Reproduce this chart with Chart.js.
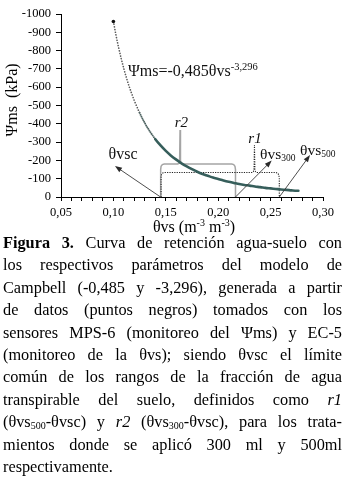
<!DOCTYPE html>
<html><head><meta charset="utf-8">
<script src="https://cdn.jsdelivr.net/npm/chart.js@4.4.0/dist/chart.umd.min.js"></script>
<style>
html,body{margin:0;padding:0;background:#fff;width:350px;height:478px;overflow:hidden}
#wrap{position:relative;width:350px;height:478px}
canvas{position:absolute;left:0;top:0}
#cap{position:absolute;left:3px;top:232px;width:339px;font-family:'Liberation Serif',serif;font-size:16.3px;line-height:22.4px;color:#000}
#cap div{text-align:justify;text-align-last:justify;white-space:nowrap}
#cap div.last{text-align-last:left}
.sb{font-size:10px;vertical-align:-2px;line-height:0}
</style></head>
<body><div id="wrap">
<canvas id="c" width="350" height="236"></canvas>
<div id="cap">
<div><b>Figura 3.</b> Curva de retención agua-suelo con</div>
<div>los respectivos parámetros del modelo de</div>
<div>Campbell (-0,485 y -3,296), generada a partir</div>
<div>de datos (puntos negros) tomados con los</div>
<div>sensores MPS-6 (monitoreo del Ψms) y EC-5</div>
<div>(monitoreo de la θvs); siendo θvsc el límite</div>
<div>común de los rangos de la fracción de agua</div>
<div>transpirable del suelo, definidos como <i>r1</i></div>
<div>(θvs<span class="sb">500</span>-θvsc) y <i>r2</i> (θvs<span class="sb">300</span>-θvsc), para los trata-</div>
<div>mientos donde se aplicó 300 ml y 500ml</div>
<div class="last">respectivamente.</div>
</div>
</div>
<script>
// ---- data ----
const thetaCurve = [0.100,0.1025,0.105,0.1075,0.110,0.1125,0.115,0.1175,0.120,0.125,0.130,0.135,0.140,0.145,0.150,0.155,0.160,0.165,0.170,0.175,0.180,0.185,0.190,0.195,0.200,0.205,0.210,0.215,0.220,0.225,0.230,0.235,0.240,0.245,0.250,0.255,0.260,0.265,0.270,0.275,0.2765];
const psiCurve   = [-959,-884,-816,-756,-700,-650,-605,-564,-526,-460,-404,-357,-316,-282,-252,-226,-204,-184,-167,-152,-138,-126,-116,-106,-98,-90,-83,-77,-71,-66,-62,-57,-54,-50,-47,-44,-41,-39,-36,-34,-34];

// bracket r2 (θvsc .. θvs300) and r1 (θvsc .. θvs500)
const r2Theta = [0.1451,0.1451,0.1455,0.1467,0.1485,0.1613,0.1626,0.1632,0.1636,0.1640,0.1646,0.1659,0.2130,0.2148,0.2160,0.2165,0.2165];
const r2Psi   = [0,-150,-168,-177,-180,-180,-184,-200,-366,-200,-184,-180,-180,-177,-168,-150,0];
const r1Theta = [0.1455,0.1455,0.1459,0.1471,0.1489,0.2323,0.2336,0.2342,0.2346,0.2350,0.2356,0.2369,0.2548,0.2566,0.2578,0.2583,0.2583];
const r1Psi   = [0,-105,-122,-131,-134,-134,-138,-152,-284,-152,-138,-134,-134,-131,-122,-105,0];

// arrows: tail on the axis -> head near the label
const arrowTailTheta = [0.145,0.2165,0.2583];
const arrowTailPsi   = [0,0,0];
const arrowHeadTheta = [0.1015,0.251,0.2876];
const arrowHeadPsi   = [-169,-199,-229];

const xTickLabels = ['0,05','0,10','0,15','0,20','0,25','0,30'];
const yTickLabels = ['-1000','-900','-800','-700','-600','-500','-400','-300','-200','-100','0'];

const pts = (xs, ys) => xs.map((v,i)=>({x:v,y:ys[i]}));
const F = "'Liberation Serif', serif";

function drawRich(ctx, x, y, parts, align){
  let w = 0;
  parts.forEach(p=>{ ctx.font = (p.st||'') + ' ' + p.s + 'px ' + F; p.w = ctx.measureText(p.t).width; w += p.w; });
  let cx = align==='center' ? x - w/2 : x;
  ctx.textAlign = 'left'; ctx.textBaseline = 'middle';
  parts.forEach(p=>{ ctx.font = (p.st||'') + ' ' + p.s + 'px ' + F; ctx.fillText(p.t, cx, y + (p.dy||0)); cx += p.w; });
}
function arrow(ctx, x0, y0, x1, y1){
  const a = Math.atan2(y1-y0, x1-x0), L = 7, H = 2.6;
  ctx.beginPath(); ctx.moveTo(x0,y0); ctx.lineTo(x1 - L*0.8*Math.cos(a), y1 - L*0.8*Math.sin(a)); ctx.stroke();
  ctx.beginPath();
  ctx.moveTo(x1,y1);
  ctx.lineTo(x1 - L*Math.cos(a) + H*Math.sin(a), y1 - L*Math.sin(a) - H*Math.cos(a));
  ctx.lineTo(x1 - L*Math.cos(a) - H*Math.sin(a), y1 - L*Math.sin(a) + H*Math.cos(a));
  ctx.closePath(); ctx.fill();
}

const annot = {
  id:'annot',
  afterDatasetsDraw(chart){
    const {ctx, scales:{x,y}, chartArea:ca} = chart;
    ctx.save();
    ctx.strokeStyle = '#3a3a3a'; ctx.fillStyle = '#2a2a2a'; ctx.lineWidth = 0.9;
    for (let i=0;i<arrowTailTheta.length;i++){
      arrow(ctx, x.getPixelForValue(arrowTailTheta[i]), y.getPixelForValue(arrowTailPsi[i]),
                 x.getPixelForValue(arrowHeadTheta[i]), y.getPixelForValue(arrowHeadPsi[i]));
    }
    ctx.fillStyle = '#111';
    drawRich(ctx, x.getPixelForValue(0.1092), y.getPixelForValue(-229), [{t:'θvsc',s:16}], 'center');
    drawRich(ctx, x.getPixelForValue(0.2399), y.getPixelForValue(-229), [{t:'θvs',s:15.5},{t:'300',s:9.5,dy:3}], 'left');
    drawRich(ctx, x.getPixelForValue(0.2781), y.getPixelForValue(-251), [{t:'θvs',s:15.5},{t:'500',s:9.5,dy:3}], 'left');
    drawRich(ctx, x.getPixelForValue(0.1649), y.getPixelForValue(-404), [{t:'r2',s:15,st:'italic'}], 'center');
    drawRich(ctx, x.getPixelForValue(0.2351), y.getPixelForValue(-316), [{t:'r1',s:15,st:'italic'}], 'center');
    drawRich(ctx, x.getPixelForValue(0.1139), y.getPixelForValue(-682), [{t:'Ψms=-0,485θvs',s:16},{t:'-3,296',s:10.5,dy:-5}], 'left');
    ctx.fillStyle = '#000';
    drawRich(ctx, (ca.left+ca.right)/2 + 2, 228, [{t:'θvs (m',s:16},{t:'-3',s:10,dy:-5},{t:' m',s:16},{t:'-3',s:10,dy:-5},{t:')',s:16}], 'center');
    ctx.save(); ctx.translate(12.5, 100); ctx.rotate(-Math.PI/2);
    drawRich(ctx, 0, 0, [{t:'Ψms  (kPa)',s:16}], 'center');
    ctx.restore();
    ctx.restore();
  }
};

Chart.defaults.font.family = F;
Chart.defaults.color = '#000';

const seg = (x, a, b, c) => x < 0.124 ? a : (x < 0.1395 ? b : c);

new Chart(document.getElementById('c'), {
  type:'scatter',
  data:{datasets:[
    { data: pts(thetaCurve, psiCurve), showLine:true, cubicInterpolationMode:'monotone',
      borderColor:'#365e5b', borderWidth:2.6, borderCapStyle:'round',
      pointRadius: c => c.dataIndex===0 ? 1.8 : 0, pointBackgroundColor:'#111', pointBorderWidth:0,
      segment:{
        borderDash: c => seg(c.p0.parsed.x, [0.01,2.7], [0.01,2.0], []),
        borderWidth: c => seg(c.p0.parsed.x, 1.7, 1.9, 2.6),
        borderColor: c => seg(c.p0.parsed.x, '#5a5a5a', '#4f6462', '#365e5b')
      }, order:0 },
    { data: pts(r2Theta, r2Psi), showLine:true, borderColor:'#a5a5a5', borderWidth:1.5, pointRadius:0, tension:0, order:2 },
    { data: pts(r1Theta, r1Psi), showLine:true, borderColor:'#222', borderWidth:1.1, borderDash:[1.2,1.2], pointRadius:0, tension:0, order:1 }
  ]},
  options:{
    responsive:false, animation:false,
    layout:{padding:{left:0,right:27,top:14,bottom:0}},
    plugins:{legend:{display:false}, tooltip:{enabled:false}},
    scales:{
      x:{ type:'linear', min:0.05, max:0.30,
        afterFit: s => { s.height = 39; },
        border:{display:true,color:'#000',width:1},
        grid:{drawOnChartArea:false, drawTicks:true, tickLength:4, color:'#000'},
        ticks:{ stepSize:0.01, autoSkip:false, maxRotation:0, padding:4, font:{family:F, size:12.5},
          callback: v => { const k = Math.round(v*100); return k%5===0 ? xTickLabels[(k-5)/5] : ''; } } },
      y:{ type:'linear', min:-1000, max:0, reverse:true,
        afterFit: s => { s.width = 61; },
        border:{display:true,color:'#000',width:1},
        grid:{drawOnChartArea:false, drawTicks:true, tickLength:5, color:'#000'},
        ticks:{ stepSize:100, padding:5, font:{family:F, size:12.5},
          callback: v => yTickLabels[Math.round((v+1000)/100)] } }
    }
  },
  plugins:[annot]
});
</script>
</body></html>
